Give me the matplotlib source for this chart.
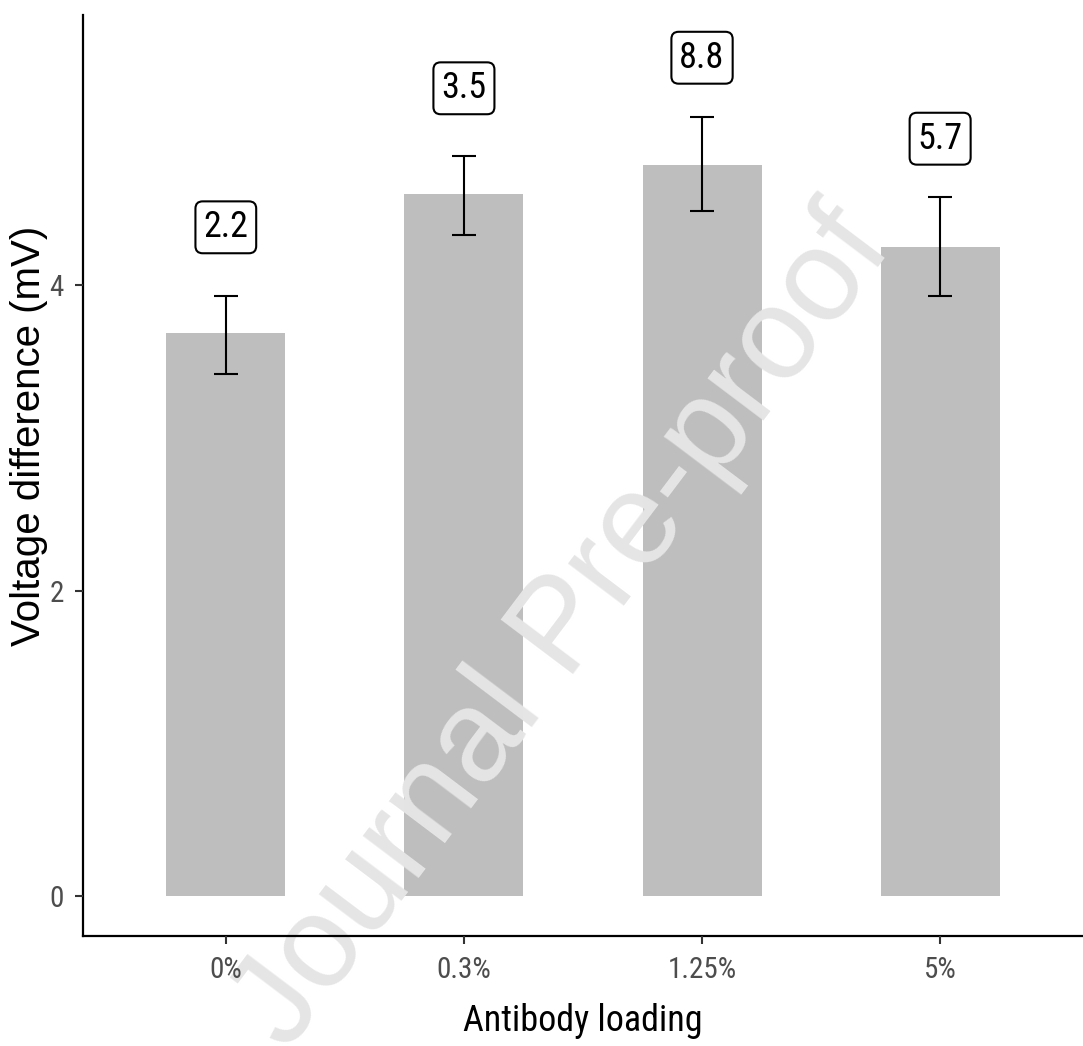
import matplotlib
matplotlib.use("Agg")
import matplotlib.pyplot as plt

# values
categories = ["0%", "0.3%", "1.25%", "5%"]
means = [3.69, 4.60, 4.79, 4.25]
err_low = [3.42, 4.33, 4.49, 3.93]
err_high = [3.93, 4.85, 5.10, 4.58]
box_labels = ["2.2", "3.5", "8.8", "5.7"]
box_y = [4.38, 5.29, 5.49, 4.96]

narrow = ["Roboto Condensed", "DejaVu Sans"]
plt.rcParams["font.family"] = ["Liberation Sans", "DejaVu Sans"]

fig = plt.figure(figsize=(10.83, 10.46), dpi=100)
ax = fig.add_axes([0.0766, 0.105, 0.9234, 0.8807])
ax.set_axisbelow(False)

x = list(range(len(categories)))
yerr = [[m - lo for m, lo in zip(means, err_low)],
        [hi - m for m, hi in zip(means, err_high)]]
ax.bar(x, means, width=0.5, color="#bebebe", zorder=2)
ax.errorbar(x, means, yerr=yerr, fmt="none", ecolor="black",
            elinewidth=1.5, capsize=8.5, capthick=1.5, zorder=3)

# labels in rounded boxes above each bar
for xi, lab, yy in zip(x, box_labels, box_y):
    ax.text(xi, yy, lab, ha="center", va="center", fontsize=26,
            family=narrow, color="black", zorder=4,
            bbox=dict(boxstyle="round,pad=0.22,rounding_size=0.2",
                      fc="white", ec="black", lw=1.5))

ax.set_xlim(-0.6, 3.6)
ax.set_ylim(-0.26, 5.77)
ax.set_xticks(x)
ax.set_xticklabels(categories)
ax.set_yticks([0, 2, 4])
for t in ax.get_xticklabels() + ax.get_yticklabels():
    t.set_family(narrow)
    t.set_fontsize(21)
    t.set_color("#4d4d4d")
ax.tick_params(axis="both", length=6, width=1.5, color="#333333", pad=8)

for s in ["top", "right"]:
    ax.spines[s].set_visible(False)
for s in ["left", "bottom"]:
    ax.spines[s].set_linewidth(1.6)
    ax.spines[s].set_color("black")

ax.set_xlabel("Antibody loading", fontsize=26, family=narrow, labelpad=14)
fig.text(0.027, 0.583, "Voltage difference (mV)", fontsize=29,
         rotation=90, ha="center", va="center")

# watermark, above the bars but under the axis lines and tick labels
ax.text(0.52, 0.398, "Journal Pre-proof", fontsize=94, color="#e5e5e5",
        rotation=53, ha="center", va="center", transform=fig.transFigure,
        clip_on=False, zorder=2.4)

fig.savefig("out.png", dpi=100)
